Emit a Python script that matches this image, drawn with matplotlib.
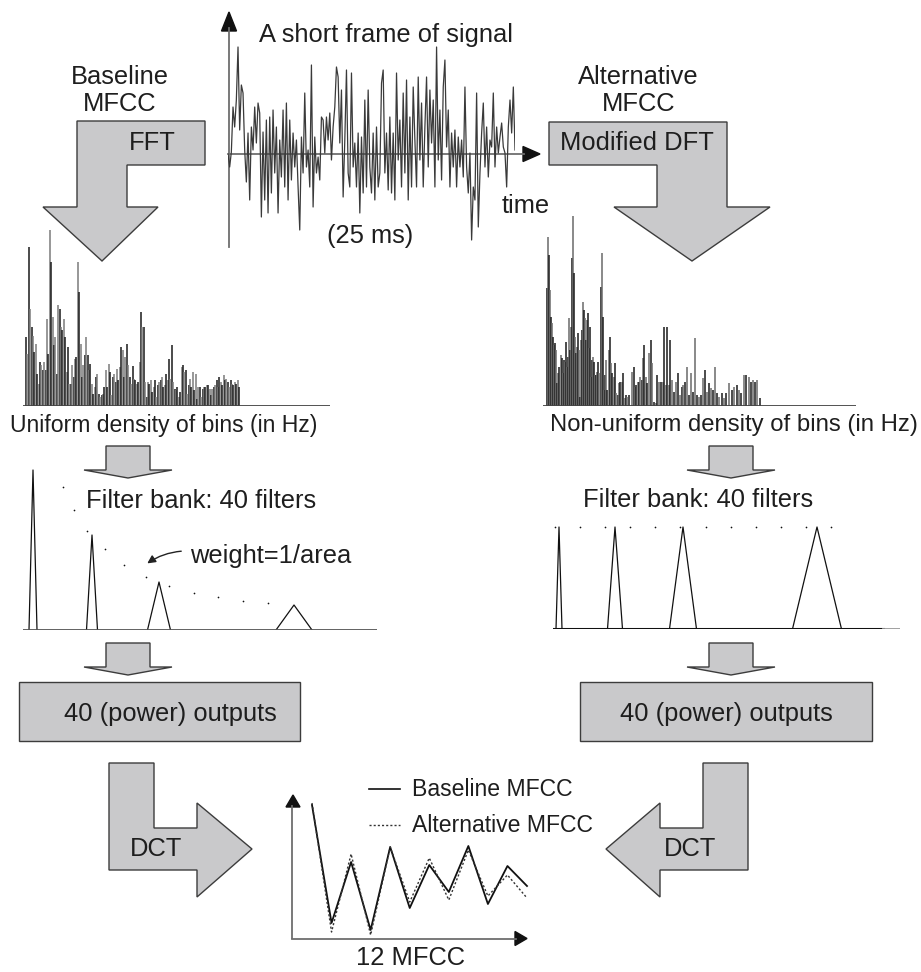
import numpy as np
import matplotlib
matplotlib.use('Agg')
import matplotlib.pyplot as plt
from matplotlib.patches import Polygon

# Signal frame (amplitude, arbitrary units, zero = time axis)
signal = [0, -13, 2, 47, 27, 54, 107, 24, 69, 61, 4, -28, 21, -46, 27, 4, 47, 11, 51, 41,
          -63, 22, -46, 34, -59, 37, -39, 44, -19, 27, -59, 14, -23, 44, -33, 51, -46, 34, -26, 21,
          -13, 14, -33, -76, 17, -19, 61, -13, 4, -33, 89, -53, 17, -19, -3, -26, 37, 34, 1, 37,
          14, 41, -6, 27, 47, 87, 77, 11, 64, -43, 14, 84, -19, -33, 81, -13, 11, -33, 21, -59,
          17, -39, 54, -33, 64, -13, -39, 21, -46, 27, -33, -19, 71, 84, -19, 21, -36, 37, -39, 21,
          -46, 81, -6, 34, -33, 61, -19, 74, -46, 37, -33, 67, 14, -33, 77, -6, 51, -33, 27, 77,
          -13, 64, 11, 54, -33, 107, -6, 44, -26, 67, 94, 7, 44, -33, 21, -13, 24, -33, 17, -13,
          14, -23, 67, -13, -39, 1, -86, -33, -46, 61, -73, -19, 21, 51, -13, 27, -23, 14, 7, 61,
          -13, 27, 1, 17, 31, 7, 1, -33, 27, 54, 21, 67, 4]

# FFT magnitudes, uniform bins
fft_mag = [207, 155, 477, 292, 237, 209, 162, 187, 97, 67, 132, 122, 107, 132, 107, 262, 155, 527, 432, 267,
           182, 207, 97, 302, 292, 237, 227, 262, 207, 102, 177, 67, 67, 122, 87, 142, 147, 432, 342, 187,
           87, 122, 152, 207, 152, 107, 127, 67, 37, 57, 87, 97, 37, 27, 32, 37, 57, 107, 57, 127,
           102, 32, 87, 97, 72, 112, 77, 117, 177, 167, 87, 147, 187, 122, 87, 67, 119, 82, 77, 67,
           72, 132, 282, 237, 237, 72, 27, 72, 67, 77, 42, 57, 77, 27, 62, 72, 77, 87, 57, 62,
           97, 77, 142, 82, 182, 72, 52, 47, 57, 27, 42, 117, 122, 102, 107, 37, 62, 82, 57, 102,
           47, 97, 22, 57, 57, 27, 52, 57, 57, 62, 62, 52, 32, 52, 57, 62, 77, 57, 87, 72,
           62, 92, 77, 82, 72, 57, 77, 67, 62, 72, 67, 79, 57]

# Modified DFT, non-uniform bins (bin frequency, magnitude)
dft_freq = [52, 55, 58, 61, 64, 67, 70, 73, 76, 79, 82, 85, 88, 92, 95, 98, 101, 104, 107, 110,
            113, 116, 119, 122, 125, 128, 131, 134, 137, 140, 143, 146, 149, 152, 155, 158, 161, 164, 167, 170,
            173, 176, 179, 183, 186, 189, 192, 195, 199, 202, 205, 208, 212, 215, 218, 222, 225, 229, 232, 236,
            240, 243, 247, 251, 255, 259, 263, 267, 271, 275, 280, 284, 288, 292, 296, 307, 311, 315, 319, 323,
            327, 331, 335, 339, 343, 347, 352, 357, 362, 367, 373, 378, 382, 388, 394, 398, 402, 407, 411, 416,
            420, 426, 432, 438, 443, 449, 455, 460, 466, 472, 478, 484, 490, 494, 500, 506, 512, 518, 524, 530,
            536, 542, 548, 554, 560, 568, 576, 582, 589, 598, 605, 613, 620, 628, 634, 642, 649, 656, 662, 669,
            675, 681, 690]
dft_mag = [353, 508, 453, 348, 268, 248, 208, 183, 188, 168, 68, 98, 118, 153, 143, 98, 138, 133, 193, 118,
           148, 263, 168, 238, 443, 570, 398, 208, 158, 178, 218, 168, 28, 198, 228, 313, 288, 263, 198, 258,
           278, 173, 238, 88, 138, 148, 133, 93, 93, 103, 133, 98, 358, 458, 268, 48, 93, 138, 48, 168,
           208, 128, 98, 88, 128, 38, 33, 68, 73, 73, 98, 23, 33, 28, 33, 103, 118, 58, 63, 73,
           73, 88, 78, 143, 183, 88, 68, 158, 198, 128, 13, 8, 93, 73, 73, 73, 238, 63, 238, 63,
           198, 78, 43, 73, 98, 33, 58, 63, 73, 118, 33, 98, 43, 203, 33, 28, 33, 83, 108, 43,
           68, 53, 48, 118, 38, 28, 38, 23, 38, 68, 48, 58, 63, 48, 38, 93, 93, 88, 73, 78,
           73, 78, 23]

# Filter banks: centre, half width, peak weight
base_fc = [10, 69, 136, 271]
base_hw = [4, 5.5, 11.5, 18]
base_h = [160, 95, 48, 25]
base_dot_f = [40, 51, 64, 82, 101, 123, 146, 171, 195, 220, 245]
base_dot_h = [143, 120, 99, 81, 65, 53, 44, 37, 33, 29, 27]

alt_fc = [6, 62, 130, 264]
alt_hw = [3, 7.5, 13.5, 24.5]
alt_h = 102
alt_dot_f = [2, 27, 52, 77, 102, 127, 153, 178, 203, 228, 253, 278]

# 12 cepstral coefficients
coef = list(range(1, 13))
mfcc_base = [133, 15, 76, 8, 91, 30, 73, 46, 92, 34, 72, 52]
mfcc_alt = [135, 6, 84, 3, 91, 36, 80, 38, 88, 42, 63, 40]

W, H = 921, 972
plt.rcParams['font.family'] = ['Liberation Sans', 'DejaVu Sans']
FS = 18.4
TXT = '#1e1e1e'
FILL = '#c9c9cb'
EDGE = '#3c3c3c'
AXC = '#6e6e6e'

fig = plt.figure(figsize=(W / 100, H / 100), dpi=100)
bg = fig.add_axes([0, 0, 1, 1])
bg.set_xlim(0, W)
bg.set_ylim(H, 0)
bg.set_axis_off()


def px_axes(x0, y0, x1, y1):
    a = fig.add_axes([x0 / W, 1 - y1 / H, (x1 - x0) / W, (y1 - y0) / H])
    a.set_axis_off()
    return a


def label(x, y, s, size=FS, ha='center'):
    bg.text(x, y, s, fontsize=size, color=TXT, ha=ha, va='center')


def shape(pts):
    bg.add_patch(Polygon(pts, closed=True, facecolor=FILL, edgecolor=EDGE, lw=1.0))


def small_arrow(xc, top):
    shape([(xc - 22, top), (xc + 22, top), (xc + 22, top + 24), (xc + 44, top + 24),
           (xc, top + 32), (xc - 44, top + 24), (xc - 22, top + 24)])


# big process arrows
shape([(77, 121), (205, 121), (205, 165), (127, 165), (127, 207), (158, 207),
       (102, 261), (43, 207), (77, 207)])
shape([(549, 122), (727, 122), (727, 207), (770, 207), (692, 261), (614, 207),
       (657, 207), (657, 165), (549, 165)])
small_arrow(128, 446)
small_arrow(731, 446)
small_arrow(128, 643)
small_arrow(731, 643)
bg.add_patch(plt.Rectangle((19, 682), 281, 59, facecolor=FILL, edgecolor=EDGE, lw=1.0))
bg.add_patch(plt.Rectangle((580, 682), 292, 59, facecolor=FILL, edgecolor=EDGE, lw=1.0))
shape([(109, 763), (154, 763), (154, 828), (197, 828), (197, 803), (252, 849),
       (197, 897), (197, 870), (109, 870)])
shape([(703, 763), (748, 763), (748, 870), (660, 870), (660, 897), (606, 849),
       (660, 803), (660, 828), (703, 828)])

# labels
label(120, 77, 'Baseline')
label(120, 104, 'MFCC')
label(152, 143, 'FFT')
label(638, 77, 'Alternative')
label(639, 104, 'MFCC')
label(637, 143, 'Modified DFT')
label(386, 35, 'A short frame of signal')
label(370, 236, '(25 ms)')
label(526, 206, 'time')
label(164, 425, 'Uniform density of bins (in Hz)', size=16.6)
label(734, 425, 'Non-uniform density of bins (in Hz)', size=17.2)
label(201, 501, 'Filter bank: 40 filters')
label(698, 500, 'Filter bank: 40 filters')
label(190, 556, 'weight=1/area', ha='left')
bg.annotate('', xy=(145, 565), xytext=(184, 551),
            arrowprops=dict(arrowstyle='-|>', color='#222222', lw=1.0,
                            mutation_scale=12, connectionstyle='arc3,rad=0.15'))
label(170, 714, '40 (power) outputs')
label(726, 714, '40 (power) outputs')
label(156, 849, 'DCT')
label(690, 849, 'DCT')
label(410, 958, '12 MFCC')

# signal axes arrows
bg.plot([229, 229], [247, 28], color=AXC, lw=1.3)
bg.add_patch(Polygon([(221.5, 31), (229, 12), (236.5, 31)], color='#111111'))
bg.plot([228, 524], [154, 154], color=AXC, lw=1.3)
bg.add_patch(Polygon([(523, 146.5), (540, 154), (523, 161.5)], color='#111111'))

# MFCC axes arrows
bg.plot([292, 292], [938, 806], color=AXC, lw=1.3)
bg.add_patch(Polygon([(286, 807), (293, 795), (300, 807)], color='#111111'))
bg.plot([292, 516], [938.5, 938.5], color=AXC, lw=1.3)
bg.add_patch(Polygon([(515, 931.5), (527, 938.5), (515, 945.5)], color='#111111'))

# legend
bg.plot([369, 400], [789, 789], color='#111111', lw=1.2)
bg.plot([369, 400], [825, 825], color='#333333', lw=1.0, ls=(0, (1.5, 1.5)))
label(412, 789, 'Baseline MFCC', size=16.6, ha='left')
label(412, 825, 'Alternative MFCC', size=16.6, ha='left')

# --- signal frame ---
sig_ax = px_axes(228, 44, 515, 249)
t = np.arange(len(signal))
sig_ax.plot(t, signal, color='#3a3a3a', lw=0.9)
sig_ax.set_xlim(0, len(signal) - 1)
sig_ax.set_ylim(-95, 110)

# --- uniform spectrum ---
n = len(fft_mag)
d = 213 / (n - 1)
fft_ax = px_axes(23, 226, 330, 406)
fft_x = np.arange(n)
cols = ['#1a1a1a' if i % 2 == 0 else '#7a7a7a' for i in range(n)]
fft_ax.vlines(fft_x, 0, fft_mag, colors=cols, lw=1.1)
fft_ax.axhline(0, color='#444444', lw=1.3)
fft_ax.set_xlim(-3 / d, 304 / d)
fft_ax.set_ylim(0, 540)

# --- non-uniform spectrum ---
dft_ax = px_axes(543, 206, 856, 406)
cols = ['#1a1a1a' if i % 2 == 0 else '#6a6a6a' for i in range(len(dft_mag))]
dft_ax.vlines(dft_freq, 0, dft_mag, colors=cols, lw=1.1)
dft_ax.axhline(0, color='#444444', lw=1.3)
dft_ax.set_xlim(39, 978)
dft_ax.set_ylim(0, 600)

# --- baseline filter bank ---
fb1 = px_axes(23, 460, 377, 630)
for c, hw, h in zip(base_fc, base_hw, base_h):
    fb1.plot([c - hw, c, c + hw], [0, h, 0], color='#111111', lw=0.9)
fb1.scatter(base_dot_f, base_dot_h, s=1.5, color='#111111', lw=0)
fb1.axhline(0, color='#555555', lw=1.3)
fb1.set_xlim(0, 354)
fb1.set_ylim(0, 170)

# --- alternative filter bank ---
fb2 = px_axes(553, 509, 900, 629)
for c, hw in zip(alt_fc, alt_hw):
    fb2.plot([c - hw, c, c + hw], [0, alt_h, 0], color='#111111', lw=0.9)
fb2.scatter(alt_dot_f, [alt_h] * len(alt_dot_f), s=1.5, color='#111111', lw=0)
fb2.plot([0, 330], [0, 0], color='#111111', lw=2.2)
fb2.plot([330, 347], [0, 0], color='#999999', lw=1.3)
fb2.set_xlim(0, 347)
fb2.set_ylim(0, 120)

# --- MFCC comparison ---
step = (527 - 312) / 11
mf_ax = px_axes(292, 780, 540, 938)
mf_ax.plot(coef, mfcc_base, color='#111111', lw=1.3)
mf_ax.plot(coef, mfcc_alt, color='#333333', lw=1.0, ls=(0, (1.5, 1.5)))
mf_ax.set_xlim(1 - 20 / step, 1 + 228 / step)
mf_ax.set_ylim(0, 158)

fig.savefig('out.png', dpi=100)
